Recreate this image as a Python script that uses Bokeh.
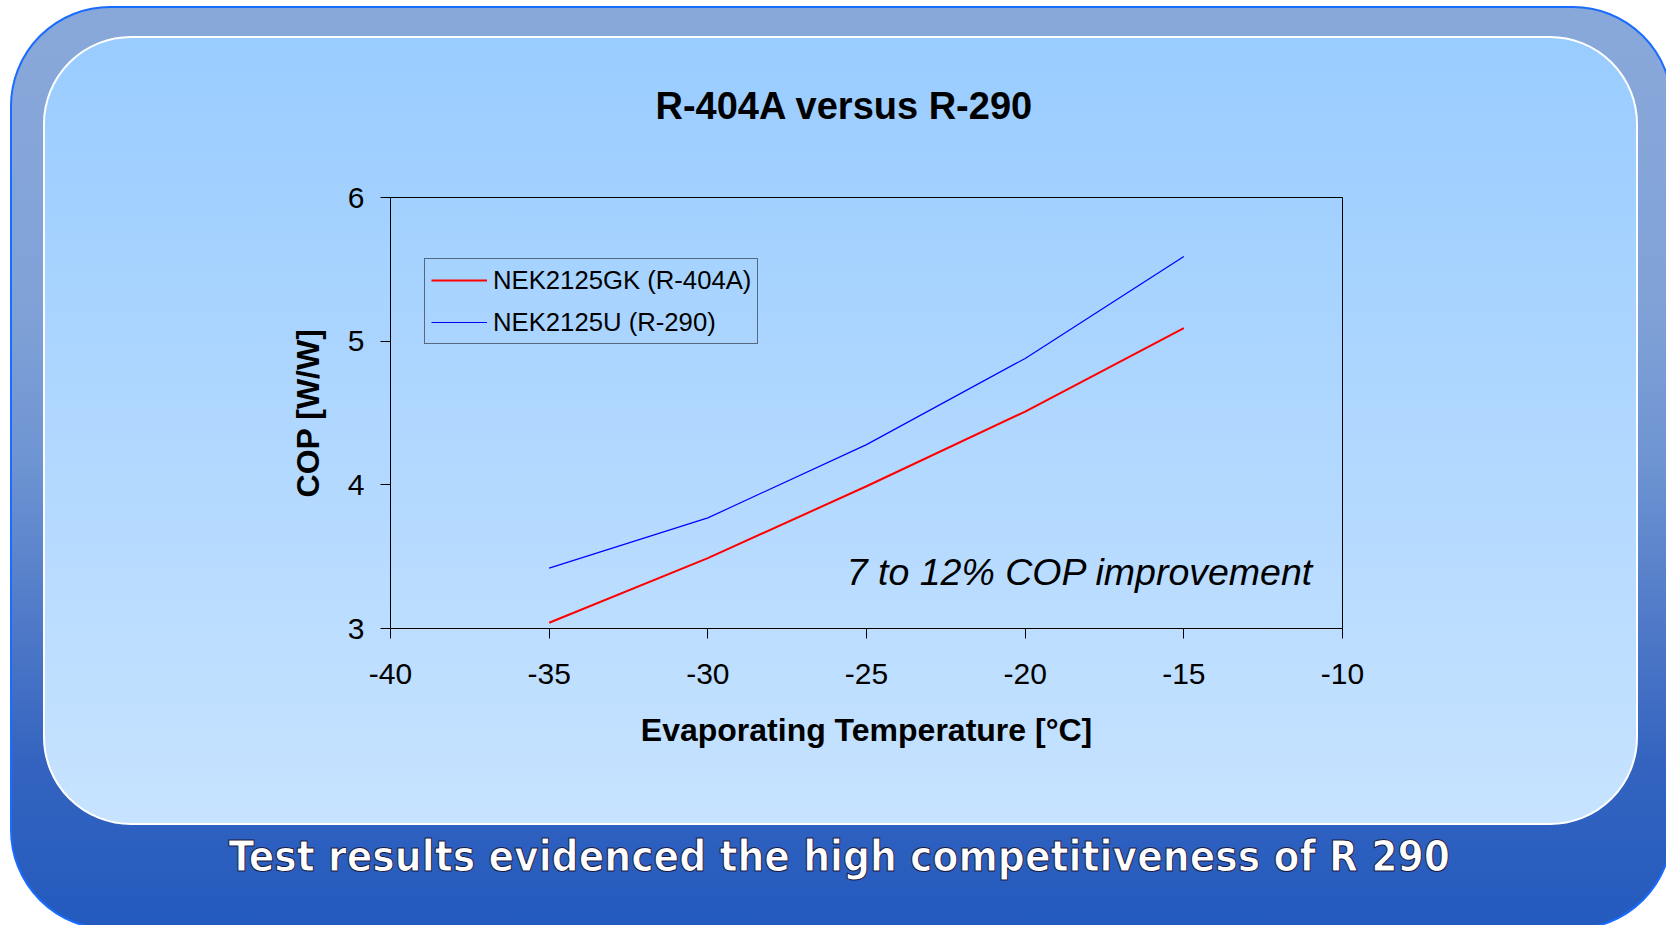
from bokeh.plotting import figure
from bokeh.models import Range1d, FixedTicker, Label, Legend, LegendItem, Title
from bokeh.embed import file_html
from bokeh.resources import INLINE

# ---------------- data ----------------
temps = [-35, -30, -25, -20, -15]
cop_r404a = [3.04, 3.49, 3.99, 4.51, 5.09]
cop_r290 = [3.42, 3.77, 4.28, 4.88, 5.59]
x_ticks = [-40, -35, -30, -25, -20, -15, -10]
y_ticks = [3, 4, 5, 6]
series_names = ["NEK2125GK (R-404A)", "NEK2125U (R-290)"]
title_text = "R-404A versus R-290"
x_label = "Evaporating Temperature [°C]"
y_label = "COP [W/W]"
note_text = "7 to 12% COP improvement"
footer_text = "Test results evidenced the high competitiveness of R 290"

# ---------------- layout ----------------
W, H = 1666, 925
FL, FR, FT, FB = 390, 1342, 197, 628
X0, X1, Y0, Y1 = -40, -10, 3, 6

css = """
:host { position: relative; overflow: hidden; isolation: isolate; background: white; }
:host::before {
  content: ""; position: absolute; left: 10px; top: 6px; width: 1663px; height: 924px;
  box-sizing: border-box; border: 2px solid #1a6cff; border-radius: 100px;
  background: linear-gradient(to bottom, #89a8da 0px, #80a2d7 294px, #6e94d2 454px,
                              #507ac8 614px, #3464c0 754px, #235abe 924px);
  z-index: -2;
}
:host::after {
  content: ""; position: absolute; left: 43px; top: 36px; width: 1595px; height: 789px;
  box-sizing: border-box; border: 2px solid white; border-radius: 88px;
  background: linear-gradient(to bottom, #99ccff, #c7e3ff);
  z-index: -1;
}
"""

p = figure(output_backend="svg", toolbar_location=None, title=None,
           x_range=Range1d(X0, X1), y_range=Range1d(Y0, Y1),
           frame_width=FR - FL, frame_height=FB - FT,
           min_border_left=FL, min_border_right=W - FR,
           min_border_top=FT, min_border_bottom=H - FB,
           stylesheets=[css])
p.background_fill_color = None
p.border_fill_color = None
p.outline_line_color = "black"
p.outline_line_width = 1
p.xgrid.visible = False
p.ygrid.visible = False

# ---------------- data lines ----------------
r1 = p.line(temps, cop_r404a, line_color="#ff0000", line_width=2)
r2 = p.line(temps, cop_r290, line_color="#0000ff", line_width=1.2)

legend = Legend(items=[LegendItem(label=series_names[0], renderers=[r1]),
                       LegendItem(label=series_names[1], renderers=[r2])],
                location=(34, 284), orientation="vertical")
legend.border_line_color = "black"
legend.border_line_width = 1
legend.background_fill_alpha = 0
legend.padding = 6
legend.spacing = 12
legend.margin = 0
legend.glyph_width = 56
legend.glyph_height = 30
legend.label_height = 30
legend.label_standoff = 6
legend.label_text_font = "Liberation Sans"
legend.label_text_font_size = "25.7px"
legend.label_text_color = "black"
p.add_layout(legend)

# ---------------- axes ----------------
for ax in (p.xaxis, p.yaxis):
    ax.major_tick_out = 10
    ax.major_tick_in = 0
    ax.minor_tick_out = 0
    ax.minor_tick_in = 0
    ax.axis_line_color = "black"
    ax.major_tick_line_color = "black"
    ax.major_label_text_font = "Liberation Sans"
    ax.major_label_text_font_size = "30px"
    ax.major_label_text_color = "black"
    ax.axis_label_text_font = "Liberation Sans"
    ax.axis_label_text_font_style = "bold"
    ax.axis_label_text_font_size = "32px"
    ax.axis_label_text_color = "black"

p.xaxis.ticker = FixedTicker(ticks=x_ticks)
p.yaxis.ticker = FixedTicker(ticks=y_ticks)
p.xaxis.major_label_overrides = {t: str(t) for t in x_ticks}
p.yaxis.major_label_overrides = {t: str(t) for t in y_ticks}
p.xaxis.axis_label = x_label
p.yaxis.axis_label = y_label
p.xaxis.major_label_standoff = 25
p.yaxis.major_label_standoff = 16
p.xaxis.axis_label_standoff = 25
p.yaxis.axis_label_standoff = 19

# ---------------- texts ----------------
p.add_layout(Title(text=title_text, align="left", offset=265, vertical_align="bottom",
                   standoff=142, text_font="Liberation Sans", text_font_style="bold",
                   text_font_size="38px", text_color="black"), "above")
p.add_layout(Label(x=-10.91, y=3.39, text=note_text, text_align="right",
                   text_baseline="middle", text_font="Liberation Sans",
                   text_font_style="italic", text_font_size="37.5px", text_color="black"))
# spacer between the x axis and the footer line
p.add_layout(Title(text=" ", align="left", vertical_align="top", standoff=68,
                   text_font_size="10px"), "below")
p.add_layout(Title(text=footer_text, align="left", offset=-162, vertical_align="top",
                   standoff=0, text_font="DejaVu Sans Condensed",
                   text_font_style="bold", text_font_size="42px", text_color="white",
                   text_outline_color="#1a1a44"), "below")

open("out.html", "w").write(file_html(p, INLINE))
